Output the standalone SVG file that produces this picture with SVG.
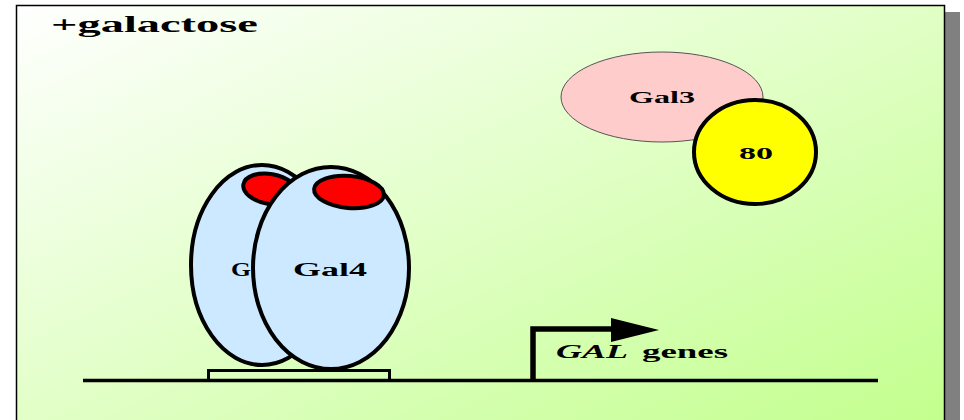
<svg xmlns="http://www.w3.org/2000/svg" width="964" height="420" viewBox="0 0 964 420">
  <defs>
    <linearGradient id="bg" x1="0" y1="0" x2="1" y2="1">
      <stop offset="0" stop-color="#ffffff"/>
      <stop offset="1" stop-color="#c2ff8c"/>
    </linearGradient>
  </defs>
  <style>
    .lbl { font-family: "Liberation Serif", "Times New Roman", serif; font-weight: bold; fill: #000; }
    .gal4 { fill: #cce9ff; stroke: #000; stroke-width: 4; }
    .dom { fill: #ff0000; stroke: #000; stroke-width: 4; }
    .wire { fill: none; stroke: #000; }
  </style>

  <!-- slide panel with drop shadow -->
  <rect x="945" y="12" width="15" height="420" fill="#808080"/>
  <rect x="16.5" y="5.5" width="928" height="430" fill="url(#bg)" stroke="#000" stroke-width="1.5"/>

  <text class="lbl" x="51" y="32" font-size="23" textLength="207" lengthAdjust="spacingAndGlyphs">+galactose</text>

  <!-- DNA strand and binding site -->
  <g id="dna">
    <line class="wire" x1="83" y1="380.5" x2="878" y2="380.5" stroke-width="3.5"/>
  </g>
  <g id="uas">
    <rect class="wire" x="208.5" y="370.5" width="181" height="10" stroke-width="3"/>
  </g>

  <!-- Gal4 dimer -->
  <g id="gal4-back">
    <ellipse class="gal4" cx="262" cy="265" rx="71" ry="100"/>
    <ellipse class="dom" cx="270" cy="189" rx="27" ry="15" transform="rotate(10 270 189)"/>
    <text class="lbl" x="231" y="276" font-size="18" textLength="20" lengthAdjust="spacingAndGlyphs">G</text>
  </g>
  <g id="gal4-front">
    <ellipse class="gal4" cx="331" cy="268" rx="78" ry="101"/>
    <ellipse class="dom" cx="349" cy="192" rx="35" ry="16" transform="rotate(5 349 192)"/>
    <text class="lbl" x="293" y="276" font-size="18" textLength="74" lengthAdjust="spacingAndGlyphs">Gal4</text>
  </g>

  <!-- Gal3 bound to Gal80 -->
  <g id="gal3">
    <ellipse cx="662" cy="97" rx="101" ry="45" fill="#ffcccc" stroke="#555" stroke-width="1"/>
    <text class="lbl" x="629" y="103" font-size="16" textLength="66" lengthAdjust="spacingAndGlyphs">Gal3</text>
  </g>
  <g id="gal80">
    <ellipse cx="755" cy="152" rx="61" ry="52" fill="#ffff00" stroke="#000" stroke-width="4"/>
    <text class="lbl" x="739" y="159" font-size="17" textLength="34" lengthAdjust="spacingAndGlyphs">80</text>
  </g>

  <!-- transcription start arrow -->
  <g id="connectors">
    <path class="wire" d="M533,380 V329 H614" stroke-width="5.5"/>
    <path d="M611,318 L659,330 L611,342 Z" fill="#000"/>
  </g>
  <g id="gal-genes">
    <text class="lbl" x="556" y="358" font-size="18"><tspan font-style="italic" textLength="72" lengthAdjust="spacingAndGlyphs">GAL</tspan><tspan x="642" textLength="86" lengthAdjust="spacingAndGlyphs">genes</tspan></text>
  </g>
</svg>
